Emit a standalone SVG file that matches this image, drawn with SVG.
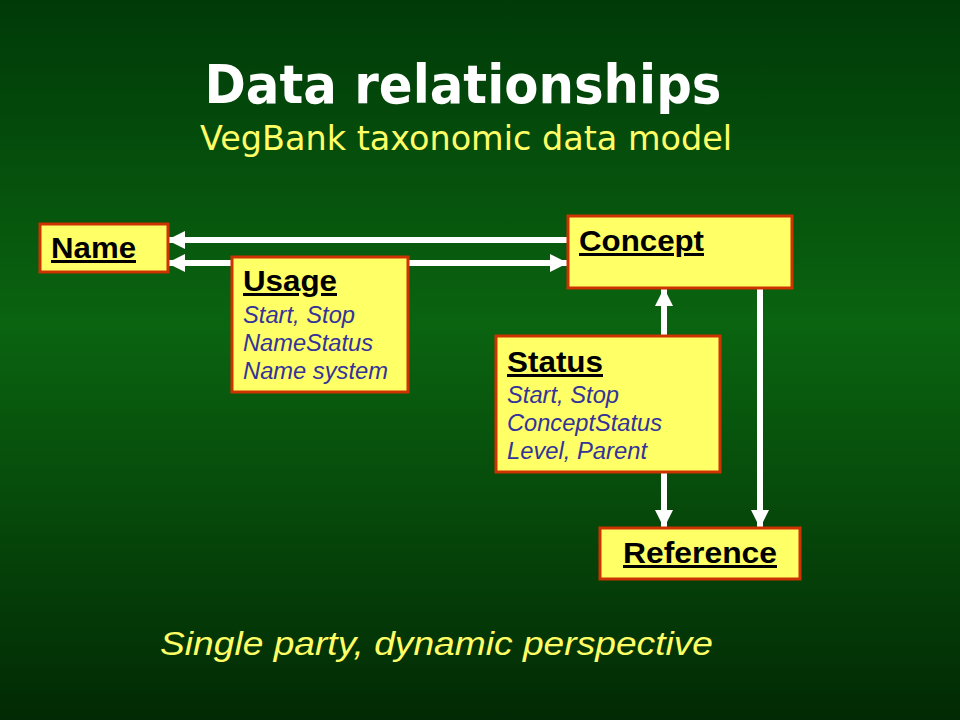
<svg xmlns="http://www.w3.org/2000/svg" width="960" height="720" viewBox="0 0 960 720">
<defs>
<linearGradient id="bg" x1="0" y1="0" x2="0" y2="1">
<stop offset="0" stop-color="#003a08"/>
<stop offset="0.45" stop-color="#0a6410"/>
<stop offset="1" stop-color="#022a04"/>
</linearGradient>
<marker id="ah" viewBox="0 0 18 18" refX="17" refY="9" markerWidth="18" markerHeight="18" markerUnits="userSpaceOnUse" orient="auto-start-reverse">
<path d="M0,0 L18,9 L0,18 Z" fill="#ffffff"/>
</marker>
<style>
.box{fill:#ffff66;stroke:#cc3300;stroke-width:3}
.ttl{font-family:"Liberation Sans",Arial,sans-serif;font-weight:bold;font-size:30px;fill:#000;text-decoration:underline}
.attr{font-family:"Liberation Sans",Arial,sans-serif;font-style:italic;font-size:23px;fill:#333399}
.conn{stroke:#ffffff;stroke-width:6;fill:none}
</style>
</defs>
<rect width="960" height="720" fill="url(#bg)"/>
<text x="463" y="103" text-anchor="middle" font-family="'DejaVu Sans',sans-serif" font-weight="bold" font-size="54" fill="#ffffff" textLength="517" lengthAdjust="spacingAndGlyphs">Data relationships</text>
<text x="466" y="150" text-anchor="middle" font-family="'DejaVu Sans',sans-serif" font-size="34" fill="#ffff66" textLength="532" lengthAdjust="spacingAndGlyphs">VegBank taxonomic data model</text>
<g id="connectors">
<line class="conn" x1="568" y1="240" x2="168" y2="240" marker-end="url(#ah)"/>
<line class="conn" x1="168" y1="263" x2="567" y2="263" marker-start="url(#ah)" marker-end="url(#ah)"/>
<line class="conn" x1="664" y1="336" x2="664" y2="289" marker-end="url(#ah)"/>
<line class="conn" x1="664" y1="473" x2="664" y2="527" marker-end="url(#ah)"/>
<line class="conn" x1="760" y1="289" x2="760" y2="527" marker-end="url(#ah)"/>
</g>
<g id="name">
<rect class="box" x="40" y="224" width="128" height="48"/>
<text class="ttl" x="51" y="258" textLength="85" lengthAdjust="spacingAndGlyphs">Name</text>
</g>
<g id="usage">
<rect class="box" x="232" y="257" width="176" height="135"/>
<text class="ttl" x="243" y="291" textLength="94" lengthAdjust="spacingAndGlyphs">Usage</text>
<text class="attr" x="243" y="323" textLength="112" lengthAdjust="spacingAndGlyphs">Start, Stop</text>
<text class="attr" x="243" y="351" textLength="130" lengthAdjust="spacingAndGlyphs">NameStatus</text>
<text class="attr" x="243" y="379" textLength="145" lengthAdjust="spacingAndGlyphs">Name system</text>
</g>
<g id="concept">
<rect class="box" x="568" y="216" width="224" height="72"/>
<text class="ttl" x="579" y="251" textLength="125" lengthAdjust="spacingAndGlyphs">Concept</text>
</g>
<g id="status">
<rect class="box" x="496" y="336" width="224" height="136"/>
<text class="ttl" x="507" y="372" textLength="96" lengthAdjust="spacingAndGlyphs">Status</text>
<text class="attr" x="507" y="403" textLength="112" lengthAdjust="spacingAndGlyphs">Start, Stop</text>
<text class="attr" x="507" y="431" textLength="155" lengthAdjust="spacingAndGlyphs">ConceptStatus</text>
<text class="attr" x="507" y="459" textLength="140" lengthAdjust="spacingAndGlyphs">Level, Parent</text>
</g>
<g id="reference">
<rect class="box" x="600" y="528" width="200" height="51"/>
<text class="ttl" x="623" y="563" textLength="154" lengthAdjust="spacingAndGlyphs">Reference</text>
</g>
<text x="160" y="655" font-family="'Liberation Sans',Arial,sans-serif" font-style="italic" font-size="33" fill="#ffff66" textLength="553" lengthAdjust="spacingAndGlyphs">Single party, dynamic perspective</text>
</svg>
